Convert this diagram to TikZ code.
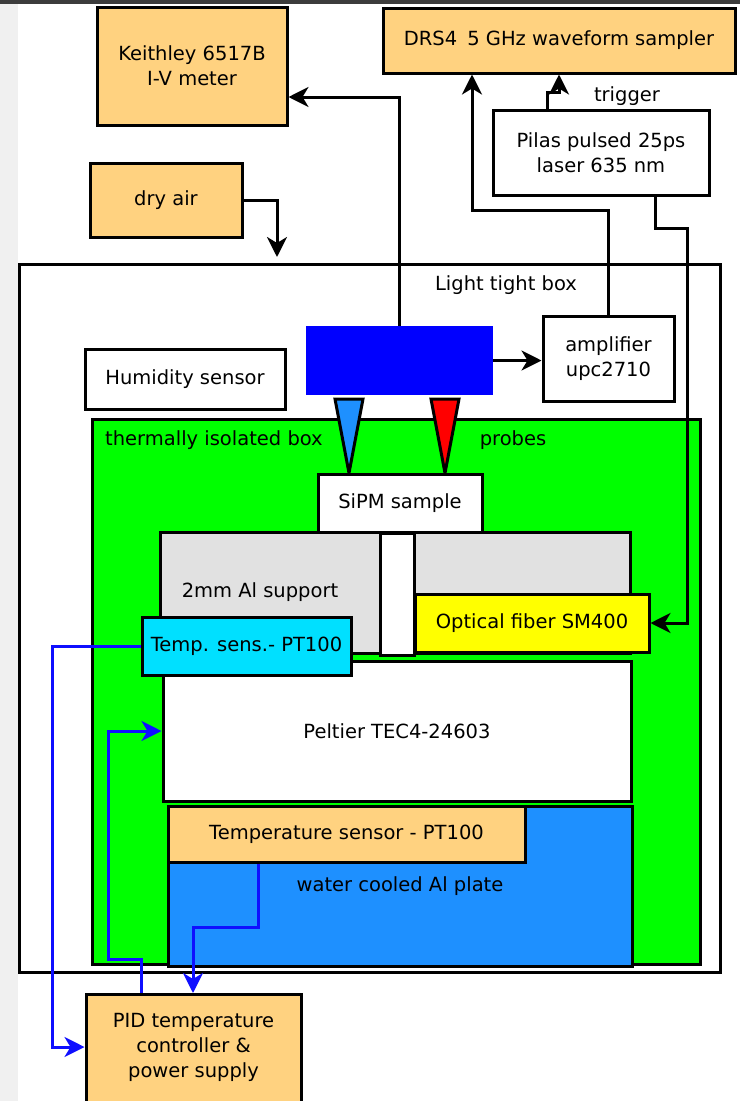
\documentclass[tikz,border=0pt]{standalone}
\usepackage{fontspec}
\setmainfont{DejaVu Sans}
\definecolor{SandColor}{RGB}{255,210,128}
\definecolor{IsoGreen}{RGB}{0,255,0}
\definecolor{MountBlue}{RGB}{0,0,255}
\definecolor{PlateBlue}{RGB}{30,144,255}
\definecolor{SensCyan}{RGB}{0,224,255}
\definecolor{SupportGray}{RGB}{225,225,225}
\definecolor{FiberYellow}{RGB}{255,255,0}
\definecolor{LinkBlue}{RGB}{15,15,255}
\definecolor{PageGray}{RGB}{240,240,240}
\definecolor{BarGray}{RGB}{60,60,60}
\usetikzlibrary{arrows.meta, positioning, calc}

\begin{document}
\begin{tikzpicture}[x=1pt, y=-1pt,
    box/.style={draw, line width=3pt, align=center, inner sep=0pt, font=\fontsize{19.5}{25}\selectfont},
    sandbox/.style={box, fill=SandColor},
    lbl/.style={inner sep=0pt, font=\fontsize{19.5}{25}\selectfont},
    link/.style={line width=3pt, -{Stealth[length=20pt, width=20pt, inset=6pt]}},
    bluelink/.style={link, draw=LinkBlue, line width=3pt}]
          \useasboundingbox (0,0) rectangle (740,1101);
          \clip (0,0) rectangle (740,1101);
          \fill[white] (0,0) rectangle (740,1101);
          \fill[PageGray] (0,0) rectangle (18,1101);
          \fill[BarGray] (0,0) rectangle (740,4);
          \node[box, fill=white, minimum width=701pt, minimum height=708pt] (ltb) at (369.5,618) {};
          \node[sandbox, minimum width=190pt, minimum height=118pt] (keithley) at (192,66) {Keithley 6517B\\I-V meter};
          \node[sandbox, minimum width=352pt, minimum height=65pt] (drs) at (559,40.5) {DRS4\hspace{0.2em} 5 GHz waveform sampler};
          \node[sandbox, minimum width=152pt, minimum height=74pt] (dryair) at (166,200) {dry air};
          \node[box, fill=white, minimum width=216pt, minimum height=85pt] (pilas) at (601,153) {Pilas pulsed 25ps\\laser 635 nm};
          \node[box, fill=white, minimum width=200pt, minimum height=60pt] (humidity) at (185,379) {Humidity sensor};
          \node[fill=MountBlue, minimum width=187pt, minimum height=69pt] (mount) at (399.5,360.5) {};
          \node[box, fill=white, minimum width=131pt, minimum height=85pt] (amp) at (608.5,358.5) {amplifier\\upc2710};
          \node[box, fill=IsoGreen, minimum width=608pt, minimum height=545pt] (tib) at (396,691.5) {};
          \draw[line width=3pt, fill=PlateBlue] (335,399) -- (363,399) -- (349,473) -- cycle;
          \draw[line width=3pt, fill=red] (431,399) -- (459,399) -- (445,473) -- cycle;
          \node[box, fill=white, minimum width=164pt, minimum height=59pt] (sipm) at (400,503.5) {SiPM sample};
          \node[box, fill=SupportGray, minimum width=470pt, minimum height=121pt] (support) at (395,592.5) {};
          \node[box, fill=white, minimum width=34pt, minimum height=122pt] (slot) at (397,594) {};
          \node[box, fill=FiberYellow, minimum width=234pt, minimum height=58pt] (fiber) at (532,623) {Optical fiber SM400};
          \node[box, fill=white, minimum width=468pt, minimum height=140pt] (peltier) at (397,731) {Peltier TEC4-24603};
          \node[box, fill=SensCyan, minimum width=209pt, minimum height=58pt] (ptsmall) at (246.5,646) {Temp. sens.- PT100};
          \node[box, fill=PlateBlue, minimum width=464pt, minimum height=160pt] (plate) at (400,886) {water cooled Al plate};
          \node[sandbox, minimum width=357pt, minimum height=56pt] (ptbig) at (346.5,834) {Temperature sensor - PT100};
          \node[sandbox, minimum width=215pt, minimum height=140pt, anchor=north] (pid) at (193.5,993) {};
          \node[lbl, align=center] (pidtext) at (193.5,1047) {PID temperature\\controller \&\\ power supply};
          \node[lbl] (ltblabel) at (506,285) {Light tight box};
          \node[lbl, anchor=west] (tiblabel) at (105,440) {thermally isolated box};
          \node[lbl] (probeslabel) at (513,440) {probes};
          \node[lbl] (triggerlabel) at (627,96) {trigger};
          \node[lbl] (supportlabel) at (260,592) {2mm Al support};
          \coordinate (airin) at (277,257);
          \draw[link] (mount.north) |- (keithley.east |- 0,97);
          \draw[link] (dryair.east) -| (airin);
          \draw[link] (amp.north) |- (472,210) -- (472,0 |- drs.south);
          \draw[link] (547,0 |- pilas.north) -- (547,92) -| (559,0 |- drs.south);
          \draw[link] (655,0 |- pilas.south) |- (687,228) |- (fiber.east);
          \draw[link] (mount.east) -- (mount.east -| amp.west);
          \draw[bluelink] (ptsmall.west) -| (52,1047) -- (pid.west |- pidtext.center);
          \draw[bluelink] (141,0 |- pid.north) |- (108,959) |- (peltier.west);
          \draw[bluelink] (258,0 |- ptbig.south) |- (193,927) -- (193,0 |- pid.north);
        \end{tikzpicture}
\end{document}
